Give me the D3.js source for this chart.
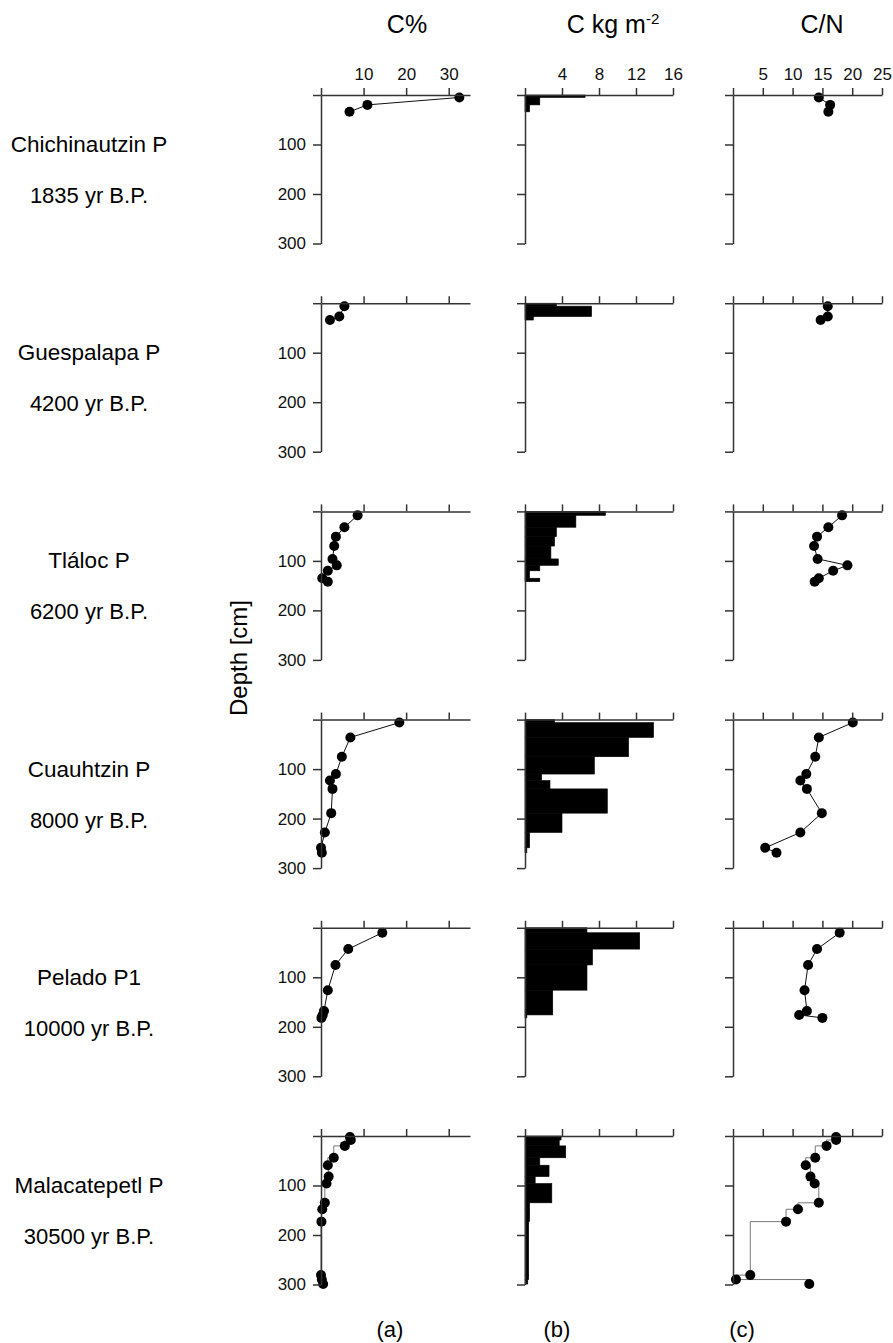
<!DOCTYPE html>
<html>
<head>
<meta charset="utf-8">
<script src="https://cdn.jsdelivr.net/npm/d3@7"></script>
<style>
  body { margin: 0; background: #fff; }
  svg { font-family: "Liberation Sans", Arial, sans-serif; }
  .axis path, .axis line { stroke: #333; stroke-width: 1.5px; }
  .axis text { font-size: 17px; fill: #111; }
</style>
</head>
<body>
<svg id="area" width="893" height="1343"></svg>
<script>
// sites and ages
const sites = ["Chichinautzin P", "Guespalapa P", "Tláloc P", "Cuauhtzin P", "Pelado P1", "Malacatepetl P"];
const ages = ["1835 yr B.P.", "4200 yr B.P.", "6200 yr B.P.", "8000 yr B.P.", "10000 yr B.P.", "30500 yr B.P."];

// sample depths (cm), also the bottom of each layer
const depths = [
  [5, 20, 34],
  [6, 27, 34],
  [8, 32, 51, 70, 96, 109, 120, 135, 142],
  [6, 36, 75, 110, 123, 140, 189, 228, 259, 269],
  [10, 43, 75, 126, 168, 176, 182],
  [2, 8, 20, 44, 59, 82, 96, 135, 148, 173, 281, 290, 299]
];
// C %
const carbonPct = [
  [32.5, 10.9, 6.7],
  [5.5, 4.3, 2.1],
  [8.6, 5.5, 3.5, 3.1, 2.7, 3.7, 1.6, 0.3, 1.6],
  [18.4, 6.9, 4.9, 3.5, 2.1, 2.7, 2.4, 0.9, 0.0, 0.2],
  [14.4, 6.4, 3.4, 1.6, 0.7, 0.4, 0.1],
  [6.8, 7.0, 5.6, 3.0, 1.6, 1.8, 1.3, 0.9, 0.3, 0.1, 0.0, 0.2, 0.5]
];
// C kg m-2 per layer
const carbonStock = [
  [6.5, 1.6, 0.5],
  [3.4, 7.2, 0.9],
  [8.7, 5.5, 3.4, 3.2, 2.8, 3.6, 1.6, 0.5, 1.6],
  [3.2, 13.9, 11.2, 7.5, 1.8, 2.7, 8.9, 4.0, 0.5, 0.2],
  [6.7, 12.4, 7.3, 6.7, 3.0, 3.0, 0.2],
  [3.9, 3.9, 3.7, 4.4, 1.6, 2.6, 1.1, 2.9, 0.5, 0.5, 0.4, 0.4, 0.3]
];
// C/N
const cnRatio = [
  [14.4, 16.3, 16.0],
  [15.9, 15.9, 14.7],
  [18.3, 16.0, 14.1, 13.6, 14.2, 19.2, 16.8, 14.4, 13.7],
  [20.1, 14.4, 13.8, 12.3, 11.3, 12.4, 14.9, 11.3, 5.4, 7.3],
  [17.9, 14.1, 12.6, 12.0, 12.4, 11.1, 15.0],
  [17.3, 17.3, 15.7, 13.8, 12.2, 13.0, 13.7, 14.4, 10.9, 8.9, 2.9, 0.5, 12.8]
];

// axis ticks
const pctTicks = [0, 10, 20, 30];
const stockTicks = [0, 4, 8, 12, 16];
const cnTicks = [0, 5, 10, 15, 20, 25];
const depthTicks = [0, 100, 200, 300];

let svg = d3.select("#area");

let rowTop = 95, rowStep = 208.2, panelH = 148.5;
let cols = [
  { x: 321, w: 149, max: 35, ticks: pctTicks, values: carbonPct, kind: "dots" },
  { x: 525, w: 148, max: 16, ticks: stockTicks, values: carbonStock, kind: "bars" },
  { x: 733, w: 149, max: 25, ticks: cnTicks, values: cnRatio, kind: "dots" }
];

let yScale = d3.scaleLinear().domain([0, 300]).range([0, panelH]);

sites.forEach((site, r) => {
  let top = rowTop + r * rowStep;

  svg.append("text")
    .attr("x", 89).attr("y", top + 57)
    .attr("text-anchor", "middle")
    .style("font-size", "22.5px")
    .text(site);
  svg.append("text")
    .attr("x", 89).attr("y", top + 108)
    .attr("text-anchor", "middle")
    .style("font-size", "22px")
    .text(ages[r]);

  cols.forEach((c, ci) => {
    let g = svg.append("g").attr("transform", "translate(" + c.x + "," + top + ")");
    let xScale = d3.scaleLinear().domain([0, c.max]).range([0, c.w]);
    let vals = c.values[r];
    let deps = depths[r];

    if (c.kind === "bars") {
      g.selectAll("rect")
        .data(vals)
        .enter().append("rect")
        .attr("x", 0)
        .attr("y", (d, i) => yScale(i === 0 ? 0 : deps[i - 1]))
        .attr("width", d => xScale(d))
        .attr("height", (d, i) => yScale(deps[i]) - yScale(i === 0 ? 0 : deps[i - 1]))
        .style("fill", "black")
        .style("stroke", "black")
        .style("stroke-width", "0.6px");
    } else {
      let pts = vals.map((v, i) => [v, deps[i]]);
      let line = d3.line()
        .x(d => xScale(d[0]))
        .y(d => yScale(d[1]))
        .curve(r === 5 ? d3.curveStepAfter : d3.curveLinear);
      g.append("path")
        .datum(pts)
        .attr("d", line)
        .style("fill", "none")
        .style("stroke", r === 5 ? "#777" : "#111")
        .style("stroke-width", "1px");
      g.selectAll("circle")
        .data(pts)
        .enter().append("circle")
        .attr("cx", d => xScale(d[0]))
        .attr("cy", d => yScale(d[1]))
        .attr("r", 5)
        .style("fill", "black");
    }

    let topAxis = d3.axisTop(xScale)
      .tickValues(c.ticks)
      .tickSize(7).tickSizeOuter(0).tickPadding(8)
      .tickFormat(d => (r === 0 && d !== 0) ? d : "");
    g.append("g").attr("class", "axis").call(topAxis);

    let leftAxis = d3.axisLeft(yScale)
      .tickValues(depthTicks)
      .tickSize(8).tickSizeOuter(0).tickPadding(7)
      .tickFormat(d => (ci === 0 && d !== 0) ? d : "");
    g.append("g").attr("class", "axis").call(leftAxis);
  });
});

// column headers
svg.append("text").attr("x", 407).attr("y", 33).attr("text-anchor", "middle")
  .style("font-size", "25px").text("C%");
let h2 = svg.append("text").attr("x", 613).attr("y", 33).attr("text-anchor", "middle")
  .style("font-size", "25px");
h2.append("tspan").text("C kg m");
h2.append("tspan").attr("dy", -9).style("font-size", "15px").text("-2");
svg.append("text").attr("x", 822).attr("y", 33).attr("text-anchor", "middle")
  .style("font-size", "25px").text("C/N");

// panel letters
[["(a)", 390], ["(b)", 557], ["(c)", 742]].forEach(p => {
  svg.append("text").attr("x", p[1]).attr("y", 1337).attr("text-anchor", "middle")
    .style("font-size", "22px").text(p[0]);
});

// depth label
svg.append("text")
  .attr("transform", "translate(247,658) rotate(-90)")
  .attr("text-anchor", "middle")
  .style("font-size", "24px")
  .text("Depth [cm]");
</script>
</body>
</html>
